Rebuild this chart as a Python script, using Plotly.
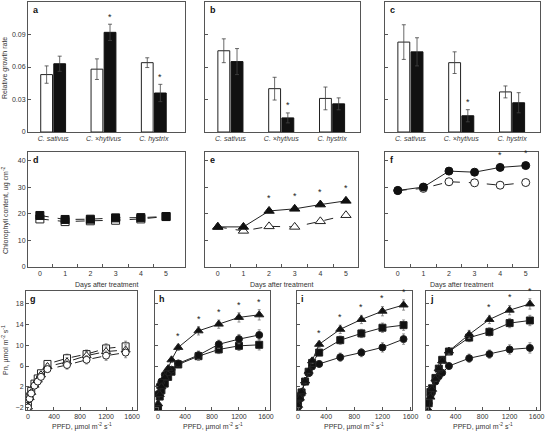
import plotly.graph_objects as go

W, H = 546, 431

# ---------------- data ----------------
species = ["C. sativus", "C. ×hytivus", "C. hystrix"]

rgr_a_ctrl = [0.053, 0.058, 0.064]
rgr_a_ctrl_err = [0.008, 0.0095, 0.0045]
rgr_a_trt = [0.063, 0.092, 0.036]
rgr_a_trt_err = [0.007, 0.0075, 0.008]
rgr_a_sig = [False, True, True]

rgr_b_ctrl = [0.075, 0.040, 0.031]
rgr_b_ctrl_err = [0.011, 0.0105, 0.0105]
rgr_b_trt = [0.065, 0.013, 0.026]
rgr_b_trt_err = [0.012, 0.0046, 0.0055]
rgr_b_sig = [False, True, False]

rgr_c_ctrl = [0.083, 0.064, 0.037]
rgr_c_ctrl_err = [0.016, 0.010, 0.0055]
rgr_c_trt = [0.074, 0.015, 0.027]
rgr_c_trt_err = [0.013, 0.0056, 0.0093]
rgr_c_sig = [False, True, False]

days = [0, 1, 2, 3, 4, 5]
chl_d_ctrl = [18.1, 17.1, 17.4, 17.6, 18.1, 19.0]
chl_d_trt = [19.4, 17.9, 18.0, 18.5, 18.6, 19.0]
chl_e_ctrl = [15.1, 13.6, 15.3, 15.1, 17.2, 19.5]
chl_e_trt = [15.1, 15.1, 21.1, 21.9, 23.5, 24.9]
chl_e_sig = [False, False, True, True, True, True]
chl_f_ctrl = [28.8, 29.6, 32.1, 31.7, 30.8, 31.8]
chl_f_trt = [28.8, 30.1, 36.1, 35.7, 37.5, 38.2]
chl_f_sig = [False, False, False, False, True, True]
chl_err = [0.8, 0.6, 0.6, 0.6, 0.6, 0.6]
chl_f_err = [1.5, 0.7, 0.7, 0.8, 0.7, 0.7]

ppfd = [0, 25, 50, 100, 150, 200, 300, 600, 900, 1200, 1500]
g_sq = [-1.7, 0.1, 1.2, 2.6, 3.6, 4.6, 6.4, 7.5, 8.3, 9.4, 9.8]
g_tri = [-1.9, -0.1, 0.9, 2.3, 3.3, 4.3, 5.9, 6.8, 8.0, 8.8, 9.1]
g_cir = [-2.0, -0.3, 0.7, 2.2, 3.0, 3.9, 5.4, 6.2, 7.2, 8.0, 8.6]
h_tri = [-1.3, 0.5, 2.0, 3.8, 5.5, 7.2, 9.6, 12.8, 14.1, 15.4, 15.9]
h_cir = [0.6, 2.2, 3.0, 4.3, 4.8, 5.3, 6.5, 8.1, 10.2, 11.2, 12.0]
h_sq = [-2.2, 0.1, 1.3, 2.6, 3.9, 4.9, 6.3, 7.9, 9.2, 9.9, 10.1]
i_tri = [-1.6, -0.2, 1.0, 3.1, 5.0, 7.0, 10.2, 13.1, 15.0, 16.6, 17.8]
i_sq = [-1.5, -0.1, 0.9, 3.0, 4.9, 6.6, 8.6, 11.0, 12.3, 13.4, 13.9]
i_cir = [-1.9, -0.3, 0.9, 3.0, 4.6, 5.9, 6.4, 7.7, 8.6, 9.6, 11.2]
j_tri = [-2.5, 0.0, 1.5, 3.5, 5.5, 7.0, 8.9, 12.1, 15.0, 16.8, 18.0]
j_sq = [-1.2, 1.0, 1.7, 3.7, 5.5, 7.2, 8.8, 11.5, 12.6, 14.3, 14.8]
j_cir = [-1.2, 0.2, 0.9, 3.0, 4.0, 4.7, 6.0, 7.5, 8.3, 9.2, 9.5]
pn_err = [0.3, 0.3, 0.3, 0.4, 0.4, 0.5, 0.6, 0.8, 0.8, 0.9, 1.0]
h_sig = [False] * 6 + [True] * 5
i_sig = [False] * 6 + [True] * 5
j_sig = [False] * 8 + [True] * 3

# ---------------- style ----------------
AX = "#555555"
TXT = "#333333"
FONT = "Liberation Sans, Arial, sans-serif"
TICKF = dict(family=FONT, size=7, color=TXT)


def px_x(a, b):
    return [a / W, b / W]


def px_y(top, bottom):
    return [1 - bottom / H, 1 - top / H]


fig = go.Figure()
layout = dict(
    width=W, height=H, margin=dict(l=0, r=0, t=0, b=0, autoexpand=False),
    paper_bgcolor="white", plot_bgcolor="white", showlegend=False,
    barmode="group", bargap=0.48, bargroupgap=0.1,
    font=dict(family=FONT, size=7, color=TXT), hovermode=False,
)
annotations = []


def base_axis(domain, rng, anchor):
    return dict(domain=domain, range=rng, anchor=anchor, showline=True,
                linecolor=AX, linewidth=1, mirror=True, showgrid=False,
                zeroline=False, tickfont=TICKF, ticks="inside", ticklen=3,
                tickcolor=AX, tickwidth=1, automargin=False)


def axref(n):
    return ("x" if n == 1 else "x%d" % n), ("y" if n == 1 else "y%d" % n)


def add_stars(n, xs, ys, errs, sig, offset, xshift=0):
    xr, yr = axref(n)
    for x, y, e, s in zip(xs, ys, errs, sig):
        if s:
            annotations.append(dict(text="*", x=x, y=y + e + offset, xref=xr, yref=yr,
                                    xshift=xshift, xanchor="center", yanchor="bottom",
                                    showarrow=False,
                                    font=dict(family=FONT, size=9, color="#222222")))


def panel_letter(n, letter):
    xr, yr = axref(n)
    annotations.append(dict(text="<b>%s</b>" % letter, xref=xr + " domain",
                            yref=yr + " domain", x=0.02, y=0.99,
                            xanchor="left", yanchor="top", showarrow=False,
                            font=dict(family=FONT, size=9, color="#111")))


def label(text, x, y, angle=0):
    annotations.append(dict(text=text, textangle=angle, xref="paper", yref="paper",
                            x=x, y=y, xanchor="center", yanchor="middle",
                            showarrow=False, font=dict(family=FONT, size=7, color=TXT)))


# ---------------- top row: bars ----------------
top_y = px_y(2, 132)
top_x = [px_x(28, 185), px_x(205, 360), px_x(385, 540)]
top_rng = [[-0.5, 2.62], [-0.5, 2.55], [-0.5, 2.55]]
bar_sets = [
    (rgr_a_ctrl, rgr_a_ctrl_err, rgr_a_trt, rgr_a_trt_err, rgr_a_sig),
    (rgr_b_ctrl, rgr_b_ctrl_err, rgr_b_trt, rgr_b_trt_err, rgr_b_sig),
    (rgr_c_ctrl, rgr_c_ctrl_err, rgr_c_trt, rgr_c_trt_err, rgr_c_sig),
]
for k, (c, ce, t, te, sig) in enumerate(bar_sets):
    n = k + 1
    xr, yr = axref(n)
    fig.add_trace(go.Bar(x=species, y=c, xaxis=xr, yaxis=yr,
                         marker=dict(color="white", line=dict(color="#222", width=1)),
                         error_y=dict(type="data", array=ce, color="#444",
                                      thickness=0.8, width=2)))
    fig.add_trace(go.Bar(x=species, y=t, xaxis=xr, yaxis=yr,
                         marker=dict(color="#111", line=dict(color="#111", width=1)),
                         error_y=dict(type="data", array=te, color="#444",
                                      thickness=0.8, width=2)))
    add_stars(n, species, t, te, sig, 0.0005, xshift=6.5)
    xa = base_axis(top_x[k], top_rng[k], yr)
    xa.update(type="category", ticks="", tickvals=species,
              ticktext=["<i>%s</i>" % s for s in species], categoryarray=species)
    ya = base_axis(top_y, [0, 0.12], xr)
    ya.update(tickvals=[0, 0.03, 0.06, 0.09, 0.12], showticklabels=(k == 0))
    layout["xaxis" if n == 1 else "xaxis%d" % n] = xa
    layout["yaxis" if n == 1 else "yaxis%d" % n] = ya
    panel_letter(n, "abc"[k])

label("Relative growth rate", 5 / W, 1 - 68 / H, -90)

# ---------------- middle row: chlorophyll ----------------
mid_y = px_y(152, 267)
mid_x = [px_x(28, 185), px_x(205, 358), px_x(385, 538)]
mid_rng = [[-0.47, 5.75], [-0.5, 5.47], [-0.5, 5.48]]
mid_sets = [
    (chl_d_ctrl, chl_d_trt, chl_err, chl_err, "square", [False] * 6, "dash"),
    (chl_e_ctrl, chl_e_trt, chl_err, chl_err, "triangle-up", chl_e_sig, "solid"),
    (chl_f_ctrl, chl_f_trt, chl_f_err, chl_f_err, "circle", chl_f_sig, "solid"),
]
for k, (c, t, ce, te, sym, sig, tdash) in enumerate(mid_sets):
    n = k + 4
    xr, yr = axref(n)
    msize = 8 if sym != "triangle-up" else 9
    fig.add_trace(go.Scatter(x=days, y=c, xaxis=xr, yaxis=yr, mode="lines+markers",
                             line=dict(color="#222", width=1, dash="dash"),
                             marker=dict(symbol=sym, size=msize, color="white",
                                         line=dict(color="#222", width=1)),
                             error_y=dict(type="data", array=ce, color="#777",
                                          thickness=0.8, width=1.5)))
    fig.add_trace(go.Scatter(x=days, y=t, xaxis=xr, yaxis=yr, mode="lines+markers",
                             line=dict(color="#222", width=1, dash=tdash),
                             marker=dict(symbol=sym, size=msize, color="#111",
                                         line=dict(color="#111", width=1)),
                             error_y=dict(type="data", array=te, color="#777",
                                          thickness=0.8, width=1.5)))
    add_stars(n, days, t, te, sig, 1.5)
    xa = base_axis(mid_x[k], mid_rng[k], yr)
    xa.update(tickvals=days, ticks="",
              minor=dict(tickvals=[0.5, 1.5, 2.5, 3.5, 4.5], ticks="inside",
                         ticklen=3, tickcolor=AX, tickwidth=1))
    ya = base_axis(mid_y, [0, 43.3], xr)
    ya.update(tickvals=[0, 10, 20, 30, 40], showticklabels=(k == 0))
    layout["xaxis%d" % n] = xa
    layout["yaxis%d" % n] = ya
    panel_letter(n, "def"[k])
    label("Days after treatment", (mid_x[k][0] + mid_x[k][1]) / 2, 1 - 285 / H)

label("Chlorophyll content, ug cm<sup>-2</sup>", 5 / W, 1 - 210 / H, -90)

# ---------------- bottom row: light response ----------------
bot_y = px_y(291, 410)
bot_x = [px_x(26, 137), px_x(155, 270), px_x(297, 412), px_x(426, 540)]
bot_rng = [[-30, 1675], [-45, 1660], [-15, 1620], [-40, 1650]]
bot_sets = [
    ([(g_sq, "square"), (g_tri, "triangle-up"), (g_cir, "circle")], False, None),
    ([(h_sq, "square"), (h_cir, "circle"), (h_tri, "triangle-up")], True, (h_tri, h_sig)),
    ([(i_cir, "circle"), (i_sq, "square"), (i_tri, "triangle-up")], True, (i_tri, i_sig)),
    ([(j_cir, "circle"), (j_sq, "square"), (j_tri, "triangle-up")], True, (j_tri, j_sig)),
]
for k, (series, filled, stars) in enumerate(bot_sets):
    n = k + 7
    xr, yr = axref(n)
    for vals, sym in series:
        msize = 7 if sym != "triangle-up" else 8
        fig.add_trace(go.Scatter(
            x=ppfd, y=vals, xaxis=xr, yaxis=yr, mode="lines+markers",
            line=dict(color="#222", width=1, dash=("solid" if filled else "dash")),
            marker=dict(symbol=sym, size=msize, color=("#111" if filled else "white"),
                        line=dict(color="#222", width=1)),
            error_y=dict(type="data", array=pn_err, color="#777",
                         thickness=0.8, width=1.5)))
    if stars:
        add_stars(n, ppfd, stars[0], pn_err, stars[1], 0.2)
    xa = base_axis(bot_x[k], bot_rng[k], yr)
    xa.update(tickvals=[0, 400, 800, 1200, 1600])
    ya = base_axis(bot_y, [-2.5, 20.5], xr)
    ya.update(tickvals=[-2, 2, 6, 10, 14, 18], showticklabels=(k == 0))
    layout["xaxis%d" % n] = xa
    layout["yaxis%d" % n] = ya
    panel_letter(n, "ghij"[k])
    label("PPFD, µmol m<sup>-2</sup> s<sup>-1</sup>",
          (bot_x[k][0] + bot_x[k][1]) / 2, 1 - 426 / H)

label("Pn, µmol m<sup>-2</sup> s<sup>-1</sup>", 5 / W, 1 - 350 / H, -90)

layout["annotations"] = annotations
fig.update_layout(**layout)
fig.write_html("out.html", config={"displayModeBar": False},
               post_script="document.body.style.margin='0';document.body.style.overflow='hidden';")
